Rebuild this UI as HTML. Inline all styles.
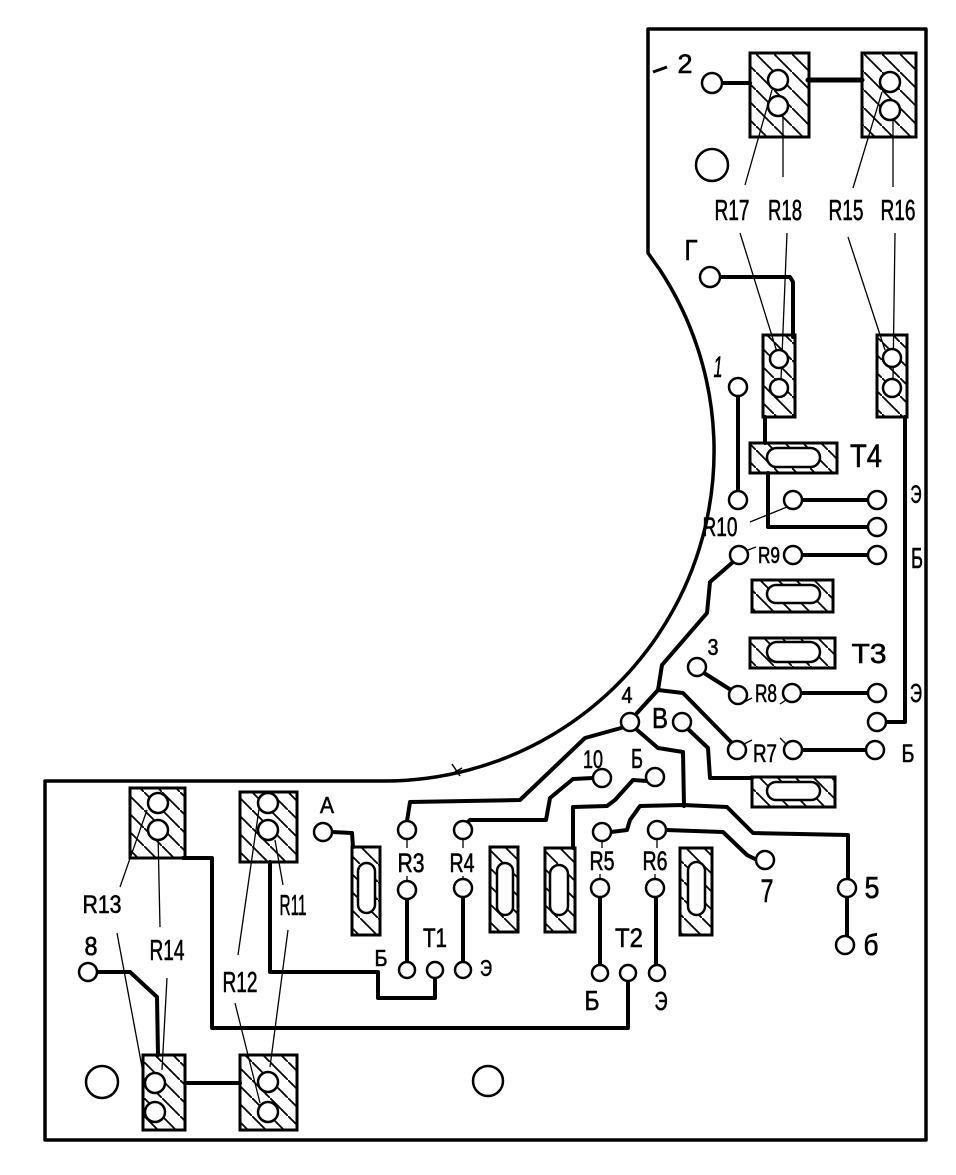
<!DOCTYPE html>
<html><head><meta charset="utf-8"><style>
html,body{margin:0;padding:0;background:#fff;}
svg{display:block;}
text{font-family:"Liberation Sans","DejaVu Sans",sans-serif;fill:#000;text-anchor:middle;stroke:#000;stroke-width:0.6;}
</style></head><body>
<svg width="956" height="1175" viewBox="0 0 956 1175" xmlns="http://www.w3.org/2000/svg">
<defs>
<pattern id="h" patternUnits="userSpaceOnUse" width="18" height="18"><path d="M-2,-2 L20,20" stroke="#000" stroke-width="1.8"/></pattern>
</defs>
<rect width="956" height="1175" fill="#fff"/>

<!-- board outline -->
<path d="M648,29 L926,29 L926,1140 L45,1140 L45,781 L382,781 A330,330 0 0 0 660,270 L648,253 Z" fill="none" stroke="#000" stroke-width="3.5" stroke-linejoin="round"/>
<line x1="653" y1="72" x2="667" y2="67" stroke="#000" stroke-width="3"/>
<path d="M452,764 L460,776 M455,772 L462,768" stroke="#000" stroke-width="1.5" fill="none"/>

<!-- traces -->
<g fill="none" stroke="#000" stroke-width="4" stroke-linejoin="round" stroke-linecap="round">
<path d="M722,83 L750,83"/>
<path d="M808,80 L862,80" stroke-width="5"/>
<path d="M720,277 L790,277 L793,282 L793,337"/>
<path d="M738,396 L738,491"/>
<path d="M765,417 L765,443"/>
<path d="M768,473 L768,527 L868,527"/>
<path d="M802,500 L868,500"/>
<path d="M802,555 L868,555"/>
<path d="M733,562 L710,582 L707,613 L662,665 L658,690 L637,713"/>
<path d="M658,690 L683,693 L731,742"/>
<path d="M704,673 L731,690"/>
<path d="M801,693 L868,693"/>
<path d="M886,722 L905,722 L905,417"/>
<path d="M802,750 L866,750"/>
<path d="M688,729 L708,748 L710,778 L752,778"/>
<path d="M636,729 L658,748 L683,752 L684,806"/>
<path d="M621,728 L585,738 L520,800 L410,802 L407,821"/>
<path d="M593,778 L573,779 L550,798 L546,820 L470,820 L465,824"/>
<path d="M647,781 L633,780 L615,800 L607,806 L573,807 L573,848"/>
<path d="M611,832 L627,830 L630,820 L640,806 L683,805 L727,807 L753,833 L848,835 L848,880"/>
<path d="M847,897 L847,936"/>
<path d="M666,830 L723,832 L747,855 L757,860"/>
<path d="M332,832 L352,833 L353,847"/>
<path d="M407,899 L407,961"/>
<path d="M463,897 L463,961"/>
<path d="M600,897 L600,964"/>
<path d="M656,897 L656,964"/>
<path d="M435,979 L435,998 L378,998 L378,972 L270,972 L270,862"/>
<path d="M628,982 L628,1028 L212,1028 L212,858 L183,858"/>
<path d="M97,972 L130,972 L157,997 L158,1055"/>
<path d="M185,1083 L240,1083"/>
</g>

<!-- resistor blocks -->
<g stroke="#000" stroke-width="3" fill="url(#h)">
<rect x="750" y="53" width="59" height="84"/>
<rect x="862" y="53" width="54" height="84"/>
<rect x="763" y="335" width="32" height="82"/>
<rect x="877" y="335" width="30" height="82"/>
<rect x="130" y="788" width="55" height="70"/>
<rect x="240" y="792" width="57" height="70"/>
<rect x="143" y="1055" width="42" height="75"/>
<rect x="240" y="1055" width="57" height="75"/>
</g>

<!-- transistor bodies -->
<g stroke="#000" stroke-width="3">
<rect x="750" y="443" width="87" height="30" fill="url(#h)"/>
<rect x="767" y="448" width="53" height="19" rx="9.5" fill="#fff" stroke-width="2.5"/>
<rect x="752" y="580" width="81" height="32" fill="url(#h)"/>
<rect x="767" y="585" width="53" height="18" rx="9" fill="#fff" stroke-width="2.5"/>
<rect x="750" y="638" width="85" height="30" fill="url(#h)"/>
<rect x="767" y="642" width="53" height="20" rx="10" fill="#fff" stroke-width="2.5"/>
<rect x="752" y="777" width="83" height="30" fill="url(#h)"/>
<rect x="767" y="782" width="53" height="18" rx="9" fill="#fff" stroke-width="2.5"/>
<rect x="352" y="847" width="28" height="88" fill="url(#h)"/>
<rect x="358" y="863" width="17" height="50" rx="8.5" fill="#fff" stroke-width="2.5"/>
<rect x="490" y="847" width="28" height="85" fill="url(#h)"/>
<rect x="497" y="863" width="16" height="52" rx="8" fill="#fff" stroke-width="2.5"/>
<rect x="545" y="848" width="30" height="84" fill="url(#h)"/>
<rect x="550" y="865" width="18" height="50" rx="9" fill="#fff" stroke-width="2.5"/>
<rect x="680" y="848" width="32" height="87" fill="url(#h)"/>
<rect x="688" y="862" width="17" height="53" rx="8.5" fill="#fff" stroke-width="2.5"/>
</g>

<!-- leader lines -->
<g stroke="#000" stroke-width="1.3" fill="none">
<path d="M745,185 L772,90"/>
<path d="M783,177 L783,115"/>
<path d="M853,188 L882,92"/>
<path d="M893,187 L893,118"/>
<path d="M740,233 L777,352"/>
<path d="M787,233 L781,380"/>
<path d="M848,237 L885,350"/>
<path d="M895,233 L893,378"/>
<path d="M750,522 L787,507"/>
<path d="M748,550 L756,547"/>
<path d="M744,702 L752,698"/>
<path d="M780,704 L786,700"/>
<path d="M744,744 L752,740"/>
<path d="M780,738 L786,744"/>
<path d="M407,839 L407,848 M407,876 L407,881"/>
<path d="M463,839 L463,848 M463,876 L463,879"/>
<path d="M602,841 L602,848 M600,874 L600,879"/>
<path d="M657,839 L657,848 M655,874 L655,879"/>
<path d="M120,887 L147,810"/>
<path d="M160,927 L158,833"/>
<path d="M117,933 L145,1083"/>
<path d="M167,978 L162,1070"/>
<path d="M238,955 L260,802"/>
<path d="M283,885 L275,840"/>
<path d="M235,1003 L260,1103"/>
<path d="M288,930 L270,1067"/>
</g>

<!-- pads and holes -->
<g fill="#fff" stroke="#000" stroke-width="2.5">
<circle cx="778" cy="80" r="10"/><circle cx="778" cy="106" r="10"/>
<circle cx="890" cy="82" r="10"/><circle cx="890" cy="110" r="10"/>
<circle cx="779" cy="359" r="9"/><circle cx="779" cy="388" r="9"/>
<circle cx="892" cy="358" r="9"/><circle cx="892" cy="388" r="9"/>
<circle cx="158" cy="803" r="10"/><circle cx="158" cy="830" r="10"/>
<circle cx="268" cy="803" r="10"/><circle cx="268" cy="830" r="10"/>
<circle cx="155" cy="1083" r="10"/><circle cx="155" cy="1112" r="10"/>
<circle cx="268" cy="1082" r="10"/><circle cx="268" cy="1112" r="10"/>

<circle cx="712" cy="83" r="10"/>
<circle cx="710" cy="277" r="10"/>
<circle cx="738" cy="387" r="9"/><circle cx="738" cy="500" r="9"/>
<circle cx="793" cy="500" r="9"/><circle cx="877" cy="500" r="9"/><circle cx="877" cy="527" r="9"/>
<circle cx="739" cy="555" r="9"/><circle cx="793" cy="555" r="9"/><circle cx="877" cy="555" r="9"/>
<circle cx="697" cy="667" r="9"/>
<circle cx="738" cy="695" r="9"/><circle cx="792" cy="693" r="9"/><circle cx="877" cy="693" r="9"/>
<circle cx="877" cy="722" r="9"/>
<circle cx="737" cy="750" r="9"/><circle cx="793" cy="750" r="9"/><circle cx="875" cy="750" r="9"/>
<circle cx="630" cy="722" r="9"/><circle cx="682" cy="722" r="9"/>
<circle cx="602" cy="778" r="9"/><circle cx="655" cy="777" r="9"/>
<circle cx="323" cy="832" r="9"/>
<circle cx="407" cy="830" r="9"/><circle cx="407" cy="890" r="9"/>
<circle cx="407" cy="970" r="8"/><circle cx="435" cy="970" r="8"/>
<circle cx="463" cy="830" r="9"/><circle cx="463" cy="888" r="9"/><circle cx="463" cy="970" r="8"/>
<circle cx="602" cy="832" r="9"/><circle cx="600" cy="888" r="9"/>
<circle cx="600" cy="973" r="8"/><circle cx="628" cy="973" r="8"/>
<circle cx="657" cy="830" r="9"/><circle cx="655" cy="888" r="9"/><circle cx="657" cy="973" r="8"/>
<circle cx="765" cy="860" r="9"/>
<circle cx="847" cy="888" r="9"/><circle cx="845" cy="945" r="9"/>
<circle cx="88" cy="972" r="9"/>

<circle cx="712" cy="165" r="16"/>
<circle cx="102" cy="1082" r="16"/>
<circle cx="488" cy="1081" r="15"/>
</g>

<!-- labels -->
<g>
<text x="685" y="73" font-size="27" textLength="15" lengthAdjust="spacingAndGlyphs">2</text>
<text x="732" y="220" font-size="29" textLength="35" lengthAdjust="spacingAndGlyphs">R17</text>
<text x="785" y="220" font-size="29" textLength="34" lengthAdjust="spacingAndGlyphs">R18</text>
<text x="846" y="220" font-size="29" textLength="35" lengthAdjust="spacingAndGlyphs">R15</text>
<text x="898" y="220" font-size="29" textLength="35" lengthAdjust="spacingAndGlyphs">R16</text>
<text x="691" y="260" font-size="29" textLength="13" lengthAdjust="spacingAndGlyphs">Г</text>
<text x="718" y="377" font-size="30" textLength="9" lengthAdjust="spacingAndGlyphs" font-style="italic">1</text>
<text x="866" y="467" font-size="32" textLength="32" lengthAdjust="spacingAndGlyphs">T4</text>
<text x="720" y="536" font-size="27" textLength="35" lengthAdjust="spacingAndGlyphs">R10</text>
<text x="916" y="503" font-size="25" textLength="11" lengthAdjust="spacingAndGlyphs">Э</text>
<text x="769" y="563" font-size="23" textLength="22" lengthAdjust="spacingAndGlyphs">R9</text>
<text x="917" y="568" font-size="29" textLength="12" lengthAdjust="spacingAndGlyphs">Б</text>
<text x="713" y="655" font-size="23" textLength="11" lengthAdjust="spacingAndGlyphs">3</text>
<text x="869" y="663" font-size="28" textLength="35" lengthAdjust="spacingAndGlyphs">T3</text>
<text x="766" y="702" font-size="25" textLength="22" lengthAdjust="spacingAndGlyphs">R8</text>
<text x="916" y="702" font-size="26" textLength="12" lengthAdjust="spacingAndGlyphs">Э</text>
<text x="765" y="762" font-size="25" textLength="24" lengthAdjust="spacingAndGlyphs">R7</text>
<text x="908" y="762" font-size="25" textLength="13" lengthAdjust="spacingAndGlyphs">Б</text>
<text x="627" y="703" font-size="23" textLength="11" lengthAdjust="spacingAndGlyphs">4</text>
<text x="660" y="728" font-size="29" textLength="16" lengthAdjust="spacingAndGlyphs">В</text>
<text x="593" y="768" font-size="25" textLength="20" lengthAdjust="spacingAndGlyphs">10</text>
<text x="637" y="768" font-size="28" textLength="12" lengthAdjust="spacingAndGlyphs">Б</text>
<text x="327" y="813" font-size="23" textLength="14" lengthAdjust="spacingAndGlyphs">А</text>
<text x="411" y="872" font-size="27" textLength="27" lengthAdjust="spacingAndGlyphs">R3</text>
<text x="462" y="872" font-size="27" textLength="25" lengthAdjust="spacingAndGlyphs">R4</text>
<text x="602" y="870" font-size="27" textLength="25" lengthAdjust="spacingAndGlyphs">R5</text>
<text x="655" y="870" font-size="27" textLength="25" lengthAdjust="spacingAndGlyphs">R6</text>
<text x="435" y="947" font-size="27" textLength="24" lengthAdjust="spacingAndGlyphs">T1</text>
<text x="629" y="947" font-size="27" textLength="28" lengthAdjust="spacingAndGlyphs">T2</text>
<text x="381" y="966" font-size="23" textLength="13" lengthAdjust="spacingAndGlyphs">Б</text>
<text x="486" y="976" font-size="23" textLength="12" lengthAdjust="spacingAndGlyphs">Э</text>
<text x="592" y="1010" font-size="28" textLength="15" lengthAdjust="spacingAndGlyphs">Б</text>
<text x="661" y="1010" font-size="26" textLength="13" lengthAdjust="spacingAndGlyphs">Э</text>
<text x="767" y="902" font-size="32" textLength="13" lengthAdjust="spacingAndGlyphs">7</text>
<text x="872" y="898" font-size="31" textLength="15" lengthAdjust="spacingAndGlyphs">5</text>
<text x="871" y="955" font-size="30" textLength="15" lengthAdjust="spacingAndGlyphs">б</text>
<text x="102" y="913" font-size="25" textLength="39" lengthAdjust="spacingAndGlyphs">R13</text>
<text x="167" y="960" font-size="29" textLength="35" lengthAdjust="spacingAndGlyphs">R14</text>
<text x="293" y="915" font-size="29" textLength="27" lengthAdjust="spacingAndGlyphs">R11</text>
<text x="240" y="992" font-size="29" textLength="35" lengthAdjust="spacingAndGlyphs">R12</text>
<text x="91" y="955" font-size="26" textLength="13" lengthAdjust="spacingAndGlyphs">8</text>
</g>
</svg>
</body></html>
